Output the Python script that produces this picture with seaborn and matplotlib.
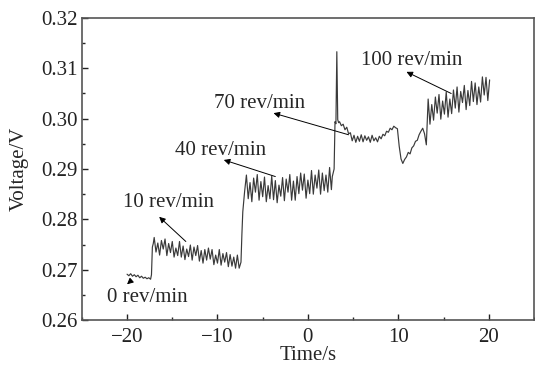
import numpy as np
import pandas as pd
import seaborn as sns
import matplotlib.pyplot as plt
from matplotlib.ticker import MultipleLocator, FormatStrFormatter

# Voltage readings in mV

# 0 rev/min, t = -20.0 .. -17.4 every 0.2 s
t_0 = np.round(np.arange(-20.0, -17.35, 0.2), 2)
v_0 = [269.1, 268.8, 269.2, 268.7, 269.0, 268.6, 268.9, 268.4, 268.7, 268.3,
       268.5, 268.2, 268.4, 268.1]

# step up
t_s1 = [-17.3, -17.2, -17.1]
v_s1 = [269.0, 274.5, 275.2]

# 10 rev/min, t = -17.0 .. -7.6 every 0.2 s
t_10 = np.round(np.arange(-17.0, -7.55, 0.2), 2)
v_10 = [276.4, 273.5, 275.3, 272.9, 275.8, 274.1, 276.1, 272.8, 275.2, 273.4,
        275.6, 272.5, 274.3, 272.8, 275.6, 272.5, 274.7, 272.0, 274.1, 272.6,
        274.9, 271.9, 274.5, 272.8, 274.8, 271.7, 273.8, 271.3, 274.0, 271.9,
        274.3, 272.1, 274.0, 271.0, 272.9, 271.3, 274.0, 270.9, 273.2, 271.5,
        273.4, 270.6, 273.0, 270.7, 272.5, 270.3, 272.9, 270.3]

t_s2 = [-7.4, -7.3, -7.2, -7.0]
v_s2 = [271.5, 277.0, 281.5, 285.5]

# 40 rev/min, t = -6.8 .. 2.6 every 0.2 s
t_40 = np.round(np.arange(-6.8, 2.65, 0.2), 2)
v_40 = [288.8, 284.1, 287.3, 283.5, 288.2, 285.4, 288.9, 283.8, 287.5, 284.5,
        288.4, 283.5, 286.7, 284.1, 288.6, 283.9, 287.7, 283.3, 286.8, 284.6,
        288.3, 283.7, 288.0, 285.4, 288.9, 283.8, 287.6, 283.8, 288.5, 285.1,
        289.2, 285.8, 289.0, 284.2, 287.8, 285.1, 289.7, 285.0, 288.8, 286.2,
        289.8, 285.0, 289.2, 285.7, 288.8, 285.4, 290.3, 285.9]

# jump and spike
t_s3 = [2.7, 2.9, 3.0, 3.1, 3.2, 3.3, 3.4]
v_s3 = [288.5, 290.0, 299.4, 299.0, 313.3, 299.8, 299.2]

# 70 rev/min, t = 3.5 .. 13.1 every 0.2 s
t_70 = np.round(np.arange(3.5, 13.15, 0.2), 2)
v_70 = [299.4, 298.6, 298.9, 297.8, 298.3, 297.0, 297.2, 295.6, 296.7, 295.3,
        296.5, 295.5, 296.8, 295.4, 296.6, 295.7, 296.4, 295.3, 296.7, 295.6,
        296.2, 295.4, 296.5, 296.0, 296.9, 296.6, 297.5, 297.3, 298.1, 297.8,
        298.5, 298.2, 298.0, 294.5, 292.0, 291.1, 291.9, 292.4, 293.3, 293.0,
        294.2, 294.6, 295.5, 295.7, 296.8, 297.5, 298.1, 297.0, 294.8]

# 100 rev/min, t = 13.3 .. 20.1 every 0.2 s
t_100 = np.round(np.arange(13.3, 20.15, 0.2), 2)
v_100 = [303.9, 298.9, 302.8, 299.7, 304.3, 301.1, 304.8, 299.9, 303.5, 300.9,
         305.3, 300.3, 303.9, 301.0, 305.7, 302.1, 306.3, 301.3, 305.4, 303.2,
         306.6, 301.8, 305.6, 302.6, 307.4, 303.4, 307.1, 302.8, 306.3, 303.3,
         308.3, 304.7, 308.2, 303.6, 307.7]

# labels: text (t, V), arrow head (t, V), arrow tail (t, V)
labels = ["0 rev/min", "10 rev/min", "40 rev/min", "70 rev/min", "100 rev/min"]
label_pos = [(-17.8, 0.2644), (-15.45, 0.2834), (-9.65, 0.2936), (-5.3, 0.3031), (11.5, 0.3115)]
arrow_head = [(-20.0, 0.2671), (-16.45, 0.2805), (-9.3, 0.2918), (-3.8, 0.3011), (10.9, 0.3093)]
arrow_tail = [(-19.5, 0.2679), (-13.5, 0.2756), (-3.6, 0.2885), (4.5, 0.2968), (15.85, 0.3050)]

t_all = np.concatenate([t_0, t_s1, t_10, t_s2, t_40, t_s3, t_70, t_100])
v_all = np.concatenate([v_0, v_s1, v_10, v_s2, v_40, v_s3, v_70, v_100]) / 1000.0
df = pd.DataFrame({"t": t_all, "v": v_all})

sns.set_theme(style="ticks")
plt.rcParams["font.family"] = ["Liberation Serif", "DejaVu Serif"]
plt.rcParams["font.size"] = 15

fig = plt.figure(figsize=(5.35, 3.67), dpi=100)
ax = fig.add_axes([0.153, 0.128, 0.845, 0.823])

sns.lineplot(data=df, x="t", y="v", ax=ax, estimator=None, sort=False,
             color="#3a3a3a", linewidth=0.85)

for lab, p, h, tl in zip(labels, label_pos, arrow_head, arrow_tail):
    ax.text(p[0], p[1], lab, ha="center", va="center", fontsize=15)
    ax.annotate("", xy=h, xytext=tl,
                arrowprops=dict(arrowstyle="-|>", color="black", lw=0.7,
                                mutation_scale=9, shrinkA=0, shrinkB=0))

ax.set_xlim(-25, 25)
ax.set_ylim(0.26, 0.32)
ax.xaxis.set_major_locator(MultipleLocator(10))
ax.xaxis.set_minor_locator(MultipleLocator(5))
ax.yaxis.set_major_locator(MultipleLocator(0.01))
ax.yaxis.set_minor_locator(MultipleLocator(0.005))
ax.yaxis.set_major_formatter(FormatStrFormatter("%.2f"))
ax.xaxis.set_major_formatter(lambda x, pos: f"{x:.0f}".replace("-", "\u2212"))

ax.tick_params(which="major", direction="in", length=4, width=1, labelsize=15,
               colors="#222222", pad=3)
ax.tick_params(axis="x", which="major", pad=6)
ax.tick_params(which="minor", direction="in", length=2.5, width=1)
for s in ax.spines.values():
    s.set_color("#555555")
    s.set_linewidth(1.2)

ax.set_xlabel("Time/s", fontsize=15, labelpad=-1)
ax.set_ylabel("Voltage/V", fontsize=15, labelpad=9)

fig.savefig("out.png", dpi=100)
